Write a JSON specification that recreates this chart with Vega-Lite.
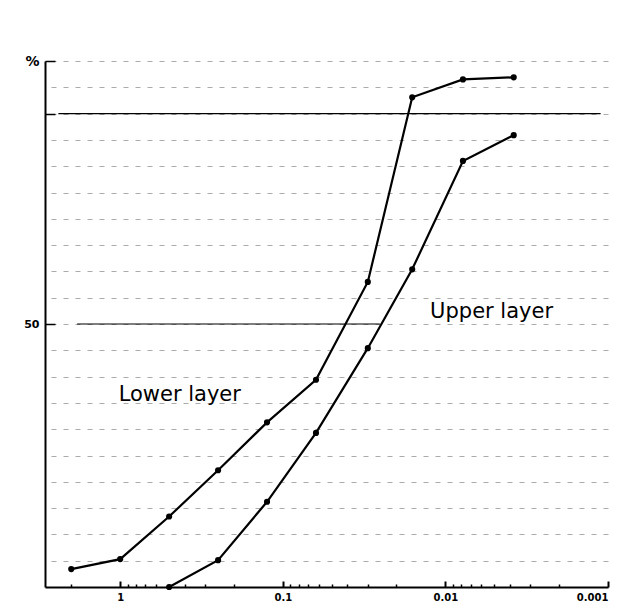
{
  "$schema": "https://vega.github.io/schema/vega-lite/v6.json",
  "width": 563,
  "height": 526,
  "autosize": "none",
  "padding": {"left": 45, "top": 61, "right": 16, "bottom": 20},
  "background": "white",
  "config": {
    "view": {"stroke": null},
    "axis": {"labelFont": "DejaVu Sans", "labelFontWeight": "bold", "labelColor": "black", "titleFont": "DejaVu Sans"}
  },
  "datasets": {
    "curves": [
      {"layer": "Lower layer", "d": 2, "p": 3.4},
      {"layer": "Lower layer", "d": 1, "p": 5.3},
      {"layer": "Lower layer", "d": 0.5, "p": 13.4},
      {"layer": "Lower layer", "d": 0.25, "p": 22.2},
      {"layer": "Lower layer", "d": 0.125, "p": 31.3},
      {"layer": "Lower layer", "d": 0.0625, "p": 39.4},
      {"layer": "Lower layer", "d": 0.03, "p": 58.0},
      {"layer": "Lower layer", "d": 0.016, "p": 93.1},
      {"layer": "Lower layer", "d": 0.0078, "p": 96.5},
      {"layer": "Lower layer", "d": 0.0038, "p": 96.9},
      {"layer": "Upper layer", "d": 0.5, "p": 0},
      {"layer": "Upper layer", "d": 0.25, "p": 5.1},
      {"layer": "Upper layer", "d": 0.125, "p": 16.2},
      {"layer": "Upper layer", "d": 0.0625, "p": 29.3},
      {"layer": "Upper layer", "d": 0.03, "p": 45.4},
      {"layer": "Upper layer", "d": 0.016, "p": 60.4},
      {"layer": "Upper layer", "d": 0.0078, "p": 81.0},
      {"layer": "Upper layer", "d": 0.0038, "p": 85.9}
    ],
    "reflines": [
      {"d": 2.4, "d2": 0.00111, "p": 90},
      {"d": 1.84, "d2": 0.0253, "p": 50}
    ],
    "labels": [
      {"label": "Lower layer", "d": 0.43, "p": 35.4},
      {"label": "Upper layer", "d": 0.0052, "p": 51.1}
    ]
  },
  "layer": [
    {
      "data": {"name": "reflines"},
      "mark": {"type": "rule", "color": "black", "strokeWidth": 1.2},
      "encoding": {
        "x": {
          "field": "d", "type": "quantitative",
          "scale": {"type": "log", "domain": [0.001, 2.9], "reverse": true, "nice": false},
          "axis": {
            "orient": "bottom", "title": null, "labels": false, "domain": false, "grid": false,
            "values": [2, 0.9, 0.8, 0.7, 0.6, 0.5, 0.4, 0.3, 0.2, 0.09, 0.08, 0.07, 0.06, 0.05, 0.04, 0.03, 0.02, 0.009, 0.008, 0.007, 0.006, 0.005, 0.004, 0.003, 0.002],
            "tickSize": -3, "tickColor": "black", "tickWidth": 1.5
          }
        },
        "x2": {"field": "d2"},
        "y": {
          "field": "p", "type": "quantitative",
          "scale": {"domain": [0, 100], "nice": false},
          "axis": {
            "orient": "left", "title": null, "labels": false, "ticks": false, "domain": false, "grid": true,
            "values": [0, 5, 10, 15, 20, 25, 30, 35, 40, 45, 50, 55, 60, 65, 70, 75, 80, 85, 90, 95, 100],
            "gridColor": "#888888", "gridDash": [5, 7], "gridWidth": 1, "gridOpacity": 0.7
          }
        }
      }
    },
    {
      "data": {"name": "curves"},
      "mark": {"type": "line", "color": "black", "strokeWidth": 2.2, "point": {"filled": true, "size": 38, "color": "black"}},
      "encoding": {
        "x": {
          "field": "d", "type": "quantitative",
          "axis": {
            "orient": "bottom", "title": null, "values": [1, 0.1, 0.01, 0.001],
            "labelExpr": "format(datum.value, '~g')",
            "labelFontSize": 10, "labelPadding": 11,
            "domain": true, "domainColor": "black", "domainWidth": 2,
            "tickSize": -6, "tickColor": "black", "tickWidth": 2, "grid": false
          }
        },
        "y": {
          "field": "p", "type": "quantitative",
          "axis": {
            "orient": "left", "title": null, "values": [50, 90, 100],
            "labelExpr": "datum.value == 100 ? '%' : datum.value == 50 ? '50' : ''",
            "labelFontSize": {"condition": {"test": "datum.value == 100", "value": 14}, "value": 11},
            "labelPadding": 16,
            "domain": true, "domainColor": "black", "domainWidth": 2,
            "tickSize": -10, "tickColor": "black", "tickWidth": 1.5, "grid": false
          }
        },
        "detail": {"field": "layer"}
      }
    },
    {
      "data": {"name": "labels"},
      "mark": {"type": "text", "font": "DejaVu Sans", "fontSize": 21, "align": "center", "baseline": "alphabetic", "color": "black"},
      "encoding": {
        "x": {"field": "d", "type": "quantitative", "axis": null},
        "y": {"field": "p", "type": "quantitative", "axis": null},
        "text": {"field": "label"}
      }
    }
  ],
  "resolve": {"axis": {"x": "independent", "y": "independent"}}
}
